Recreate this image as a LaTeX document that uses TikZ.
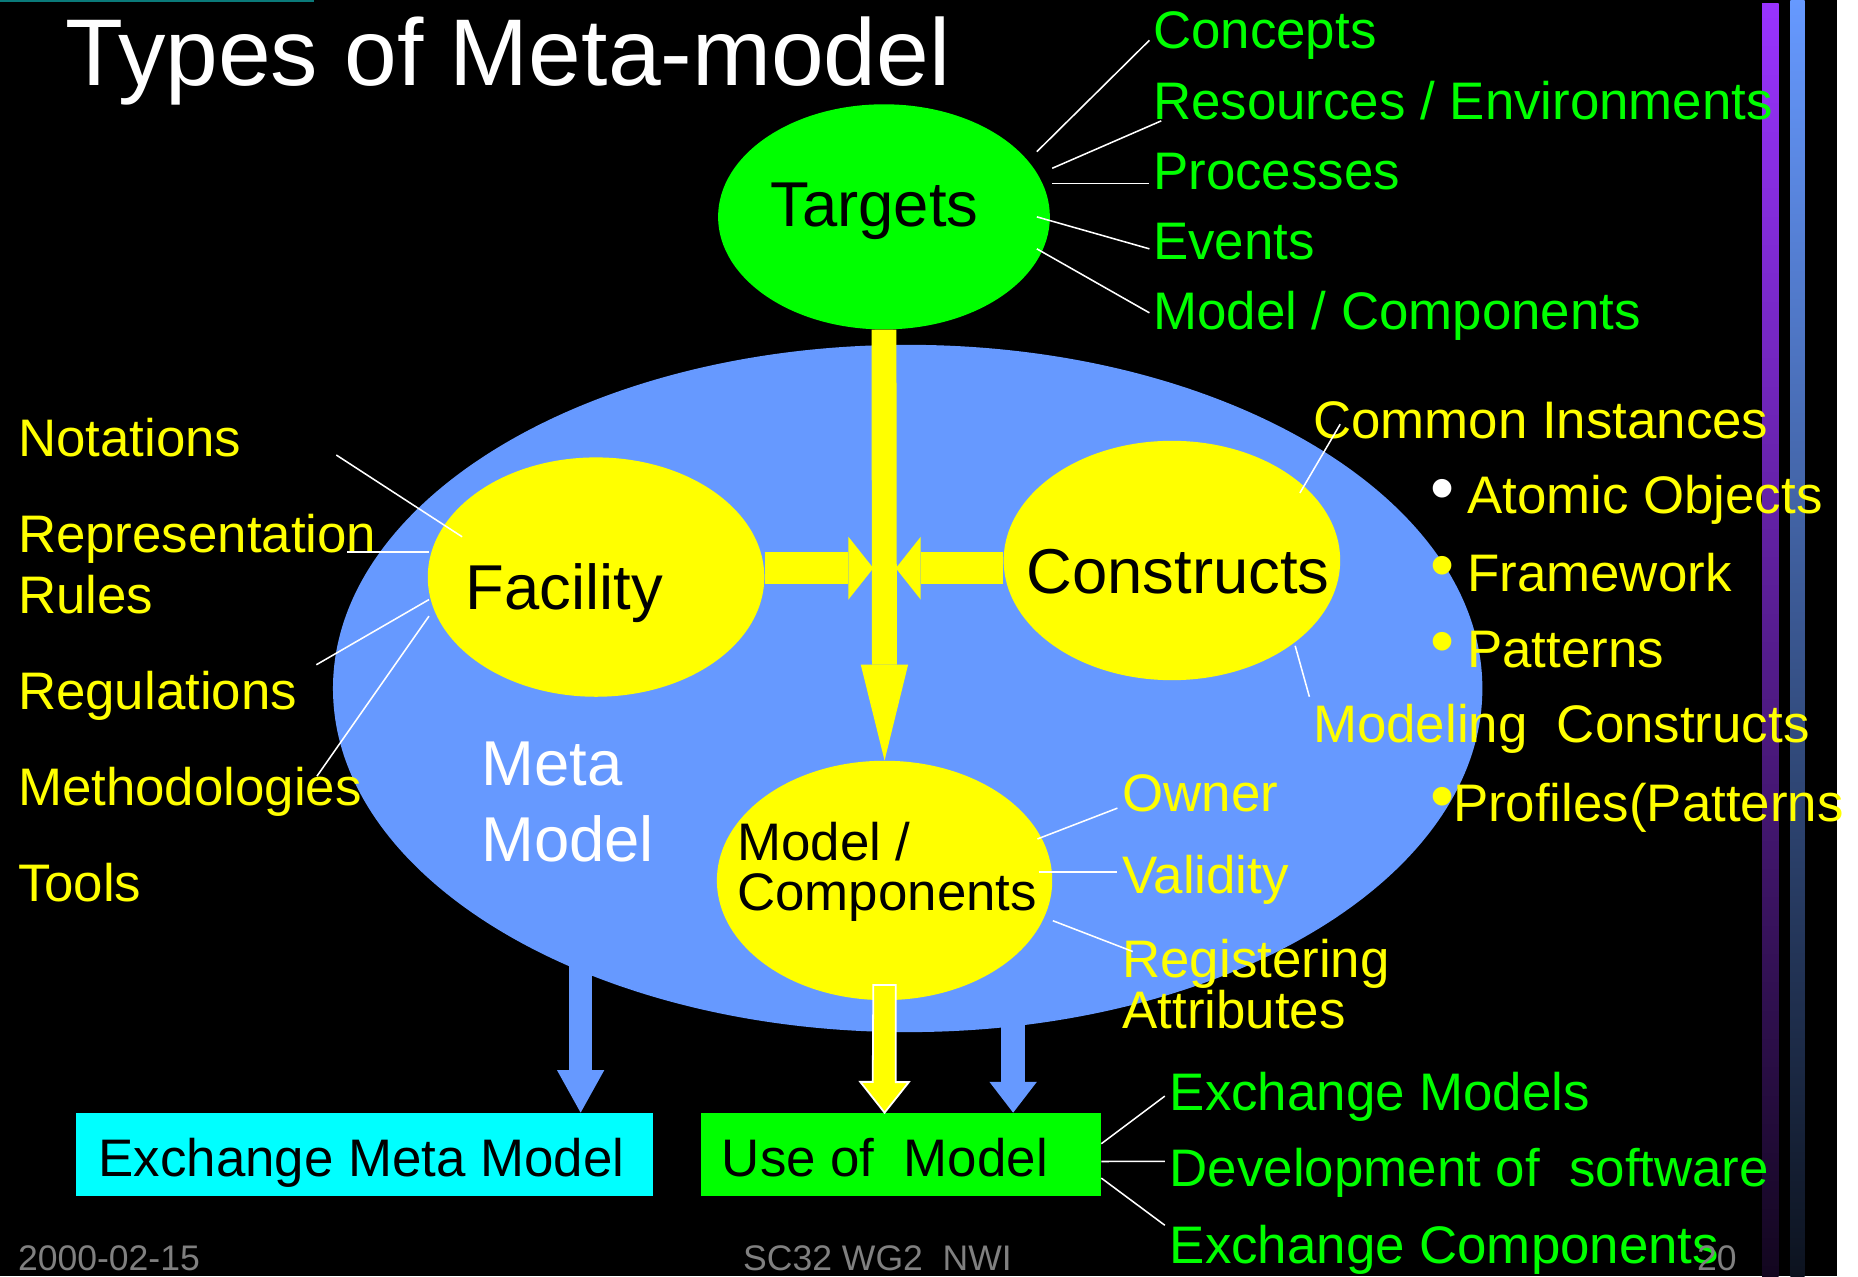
\documentclass[tikz,border=0pt]{standalone}
\usepackage{fontspec}
\setmainfont{Liberation Sans}
\usetikzlibrary{shapes.geometric,arrows.meta,calc}

\definecolor{slgreen}{HTML}{00FF00}
\definecolor{slyellow}{HTML}{FFFF00}
\definecolor{slblue}{HTML}{6699FF}
\definecolor{slcyan}{HTML}{00FFFF}
\definecolor{slgray}{HTML}{808080}
\definecolor{slpurple}{HTML}{9933FF}
\definecolor{slteal}{HTML}{0A7A7A}

\newcommand{\fsz}[1]{\fontsize{#1}{#1}\selectfont}

\tikzset{
  txt/.style={inner sep=0pt, anchor=base west, font=\fsz{44.6}},
  ytxt/.style={txt, text=slyellow},
  gtxt/.style={txt, text=slgreen},
  ktxt/.style={txt, text=black},
  bigtxt/.style={txt, font=\fsz{53.5}},
  foot/.style={txt, text=slgray, font=\fsz{30}},
  dot/.style={inner sep=0pt, font=\fsz{58}},
  blob/.style={ellipse, inner sep=0pt},
  lead/.style={white, line width=1.3pt},
  yarrow/.style={slyellow, line width=21pt, -{Triangle[width=40pt,length=81pt,line width=0pt]}},
  harrow/.style={slyellow, line width=27pt, -{Triangle[width=53pt,length=21pt,line width=0pt]}},
  barrow/.style={slblue, line width=20pt, -{Triangle[width=40pt,length=#1,line width=0pt]}},
}

\begin{document}
\begin{tikzpicture}[x=1pt,y=-1pt]
\clip (0,0) rectangle (1568,1077);

% background and side bars
\fill[black] (0,0) rectangle (1568,1077);
\fill[white] (1550,0) rectangle (1568,1077);
\fill[slteal] (0,0) rectangle (265,2);
\shade[top color=slpurple, bottom color=slpurple!12!black] (1487,3) rectangle (1501,1077);
\shade[top color=slblue, bottom color=slblue!12!black] (1511,0) rectangle (1523,1077);

% title
\node[txt, text=white, font=\fsz{80}] (title) at (55,72) {Types of Meta-model};

% meta model and boxes
\node[blob, fill=slblue, minimum width=970, minimum height=580] (meta) at (766,581) {};
\node[fill=slcyan, inner sep=0pt, minimum width=487, minimum height=70, anchor=north west] (exmeta) at (64,939) {};
\node[fill=slgreen, inner sep=0pt, minimum width=338, minimum height=70, anchor=north west] (usebox) at (591,939) {};

\coordinate (outl) at (490,800);
\coordinate (outr) at (855,850);
\draw[barrow=36pt] (outl) -- (outl |- exmeta.north);
\draw[barrow=26pt] (outr) -- (outr |- usebox.north);

% inner ellipses
\node[blob, fill=slgreen, minimum width=280, minimum height=190] (targets) at (746,183) {};
\node[blob, fill=slyellow, minimum width=284, minimum height=202] (facility) at (503,487) {};
\node[blob, fill=slyellow, minimum width=284, minimum height=202] (constructs) at (989,473) {};
\node[blob, fill=slyellow, minimum width=283, minimum height=202] (model) at (746.5,743) {};

% yellow arrows
\coordinate (hub) at (746.5,479.5);
\draw[yarrow] (targets.south) -- (model.north);
\draw[harrow] (facility.east |- hub) -- ([xshift=-9.5pt]hub);
\draw[harrow] (constructs.west |- hub) -- ([xshift=9.5pt]hub);

\coordinate (ytop) at ([yshift=13pt]model.south);
\coordinate (ytip) at (ytop |- usebox.north);
\filldraw[fill=slyellow, draw=white, line width=1.5pt] (ytop) ++(-9.5,0) -- ++(19,0) -- ++(0,82)
  -- ++(11,0) -- (ytip) -- ++(-20.5,-26) -- ++(10.5,0) -- cycle;

% texts in the shapes
\node[bigtxt] (tgttext) at (650,191) {Targets};
\node[bigtxt] (factext) at (393,514) {Facility};
\node[bigtxt] (context) at (866,501) {Constructs};
\node[ktxt] (modtext1) at (622,726) {Model /};
\node[ktxt] (modtext2) at (622,768) {Components};
\node[bigtxt, text=white] (metatext1) at (406,663) {Meta};
\node[bigtxt, text=white] (metatext2) at (406,727) {Model};
\node[ktxt] (exmetatext) at (83,993) {Exchange Meta Model};
\node[ktxt] (usetext) at (609,993) {Use of\ \ Model};

% targets
\node[gtxt] (concepts) at (973,41) {Concepts};
\node[gtxt] (resources) at (973,101) {Resources / Environments};
\node[gtxt] (processes) at (973,160) {Processes};
\node[gtxt] (events) at (973,219) {Events};
\node[gtxt] (tgtmodel) at (973,278) {Model / Components};
\draw[lead] ($(targets)+(129,-55)$) -- ($(concepts.base west)+(-3,-7)$);
\draw[lead] ($(targets)+(142,-41)$) -- ($(resources.base west)+(7,1)$);
\draw[lead] ($(targets)+(142,-28)$) -- ($(processes.base west)+(-3,-5)$);
\draw[lead] ($(targets)+(129,0)$) -- ($(events.base west)+(-3,-9)$);
\draw[lead] ($(targets)+(129,27)$) -- ($(tgtmodel.base west)+(-3,-14)$);

% facility
\node[ytxt] (notations) at (15,385) {Notations};
\node[ytxt] (repr) at (15,466) {Representation};
\node[ytxt] (rules) at (15,518) {Rules};
\node[ytxt] (regulations) at (15,599) {Regulations};
\node[ytxt] (methods) at (15,680) {Methodologies};
\node[ytxt] (tools) at (15,761) {Tools};
\draw[lead] ($(notations.base east)+(80,-1)$) -- ($(facility)+(-113,-34)$);
\draw[lead] ($(repr.base east)+(-25,0)$) -- ($(facility)+(-141,-21)$);
\draw[lead] ($(regulations.base east)+(16,-38)$) -- ($(facility)+(-141,19)$);
\draw[lead] ($(methods.base east)+(-38,-25)$) -- ($(facility)+(-141,33)$);

% constructs
\node[ytxt] (common) at (1108,370) {Common Instances};
\node[dot, text=white] (dot1) at (1217,418) {•};
\node[ytxt] (atomic) at (1238,433) {Atomic Objects};
\node[dot, text=slyellow] (dot2) at (1217,483) {•};
\node[ytxt] (framework) at (1238,499) {Framework};
\node[dot, text=slyellow] (dot3) at (1217,547) {•};
\node[ytxt] (patterns) at (1238,563) {Patterns};
\node[ytxt] (modeling) at (1108,627) {Modeling\ \ Constructs};
\node[dot, text=slyellow] (dot4) at (1217,678) {•};
\node[ytxt] (profiles) at (1226,693) {Profiles(Patterns};
\draw[lead] ($(constructs)+(108,-57)$) -- ($(common.base west)+(23,-12)$);
\draw[lead] ($(constructs)+(104,72)$) -- ($(modeling.base west)+(-3,-39)$);

% model / components
\node[ytxt] (owner) at (947,685) {Owner};
\node[ytxt] (validity) at (947,754) {Validity};
\node[ytxt] (registering) at (947,825) {Registering};
\node[ytxt] (attributes) at (947,868) {Attributes};
\draw[lead] ($(model)+(129,-35)$) -- ($(owner.base west)+(-4,-3)$);
\draw[lead] ($(model)+(130,-7)$) -- ($(validity.base west)+(-4,-18)$);
\draw[lead] ($(model)+(142,34)$) -- ($(registering.base west)+(9,-22)$);

% use of model
\node[gtxt] (exmodels) at (987,937) {Exchange Models};
\node[gtxt] (devsoft) at (987,1001) {Development of\ \ software};
\node[gtxt] (excomp) at (987,1066) {Exchange Components};
\draw[lead] ($(usebox.east)+(0,-9)$) -- ($(exmodels.base west)+(-4,-12)$);
\draw[lead] ($(usebox.east)+(0,6)$) -- ($(devsoft.base west)+(-4,-21)$);
\draw[lead] ($(usebox.east)+(0,20)$) -- ($(excomp.base west)+(-4,-32)$);

% footer
\node[foot] (date) at (15,1072) {2000-02-15};
\node[foot] (group) at (627,1072) {SC32 WG2\ \ NWI};
\node[foot] (page) at (1432,1072) {20};

\end{tikzpicture}
\end{document}
